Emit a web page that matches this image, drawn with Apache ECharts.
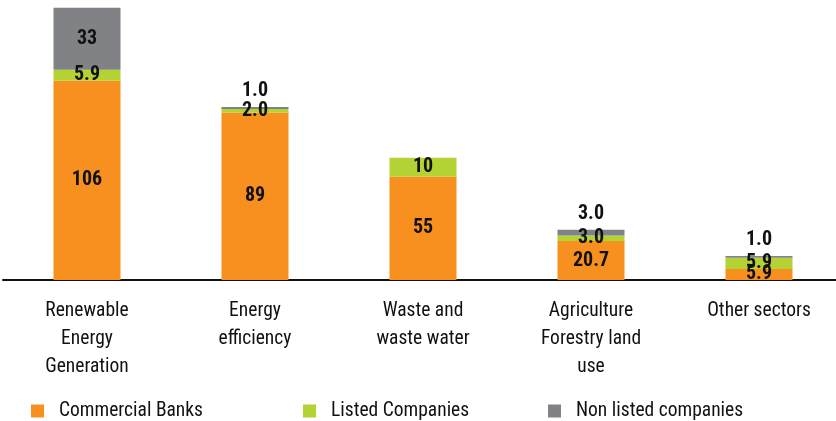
<!DOCTYPE html>
<html>
<head>
<meta charset="utf-8">
<script src="https://cdn.jsdelivr.net/npm/echarts@6/dist/echarts.min.js"></script>
<style>
  html, body { margin: 0; padding: 0; background: #fff; overflow: hidden; }
  #chart { width: 846px; height: 421px; }
</style>
</head>
<body>
<div id="chart"></div>
<script>
const categories = ['Renewable\nEnergy\nGeneration', 'Energy\nefficiency', 'Waste and\nwaste water', 'Agriculture\nForestry land\nuse', 'Other sectors']
const commercialBanks = [106, 89, 55, 20.7, 5.9]
const listedCompanies = [5.9, 2.0, 10, 3.0, 5.9]
const nonListedCompanies = [33, 1.0, 0, 3.0, 1.0]
const valueLabels = {
  commercialBanks: ['106', '89', '55', '20.7', '5.9'],
  listedCompanies: ['5.9', '2.0', '10', '3.0', '5.9'],
  nonListedCompanies: ['33', '1.0', '', '3.0', '1.0']
}

const FONT = '"Liberation Sans Narrow", "Roboto Condensed", "Liberation Sans", sans-serif'

let myChart = echarts.init(document.getElementById('chart'))

function labelStyle(texts) {
  return {
    show: true,
    position: 'inside',
    color: '#111',
    fontFamily: FONT,
    fontWeight: 'bold',
    fontSize: 20,
    formatter: p => texts[p.dataIndex]
  }
}

function seriesData(values, smallOnTop) {
  return values.map(v => {
    if (smallOnTop && v < 10) {
      return { value: v, label: { position: 'top', distance: 6 } }
    }
    return v
  })
}

let options = {
  animation: false,
  color: ['#F7901E', '#B3D335', '#808285'],
  legend: [
    { data: ['Commercial Banks'], left: 31 },
    { data: ['Listed Companies'], left: 303 },
    { data: ['Non listed companies'], left: 548 }
  ].map(l => Object.assign(l, {
    bottom: 0,
    padding: 0,
    icon: 'rect',
    itemWidth: 13,
    itemHeight: 13,
    textStyle: { fontFamily: FONT, fontSize: 19.5, color: '#111', padding: [0, 0, 0, 10] }
  })),
  grid: {
    left: 3,
    right: 3,
    top: 0,
    bottom: 141,
    containLabel: false
  },
  xAxis: {
    type: 'category',
    data: categories,
    axisTick: { show: false },
    axisLine: { lineStyle: { color: '#111', width: 2 } },
    axisLabel: {
      margin: 17,
      fontFamily: FONT,
      fontSize: 19.5,
      lineHeight: 28,
      color: '#111',
      interval: 0
    }
  },
  yAxis: {
    type: 'value',
    min: 0,
    max: 149,
    show: false,
    splitLine: { show: false }
  },
  series: [
    {
      name: 'Commercial Banks',
      type: 'bar',
      stack: 'total',
      barWidth: 67,
      label: labelStyle(valueLabels.commercialBanks),
      data: commercialBanks
    },
    {
      name: 'Listed Companies',
      type: 'bar',
      stack: 'total',
      label: labelStyle(valueLabels.listedCompanies),
      data: listedCompanies
    },
    {
      name: 'Non listed companies',
      type: 'bar',
      stack: 'total',
      label: labelStyle(valueLabels.nonListedCompanies),
      data: seriesData(nonListedCompanies, true)
    }
  ]
}
myChart.setOption(options)
</script>
</body>
</html>
